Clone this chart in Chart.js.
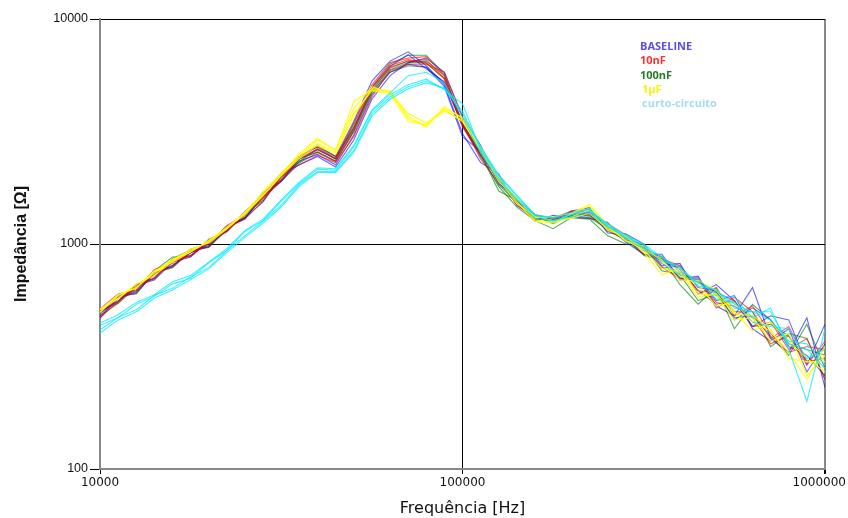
<!DOCTYPE html>
<html>
<head>
<meta charset="utf-8">
<script src="https://cdn.jsdelivr.net/npm/chart.js@4"></script>
<style>
  html, body { margin: 0; padding: 0; background: #fff; }
  #wrap { width: 848px; height: 518px; }
</style>
</head>
<body>
<div id="wrap"><canvas id="graph-impedance"></canvas></div>
<script>
// frequency points (Hz), 20 per decade
const freq = [10000, 11220, 12589, 14125, 15849, 17783, 19953, 22387, 25119, 28184,
  31623, 35481, 39811, 44668, 50119, 56234, 63096, 70795, 79433, 89125,
  100000, 112202, 125893, 141254, 158489, 177828, 199526, 223872, 251189, 281838,
  316228, 354813, 398107, 446684, 501187, 562341, 630957, 707946, 794328, 891251, 1000000];

const yTicks = [100, 1000, 10000];
const xTicks = [10000, 100000, 1000000];

// BASELINE
const baseline1 = [503,553,656,692,831,876,1040,1143,1397,1634,1905,2409,2750,2450,3500,5300,6500,7150,6200,5100,3100,2300,2050,1480,1330,1240,1400,1450,1120,1110,1000,800,820,600,660,560,430,480,460,290,440];
const baseline2 = [470,575,605,745,795,935,970,1190,1290,1650,2050,2250,2450,2200,2900,4400,5600,6400,6700,5800,3650,2750,1850,1600,1260,1340,1320,1300,1250,1020,900,900,700,720,530,480,640,380,330,470,230];
const baseline3 = [495,560,640,710,845,890,1010,1200,1310,1540,2010,2390,2620,2390,3260,4950,6150,6950,6000,5250,3350,2480,1960,1540,1350,1280,1390,1420,1150,1080,980,780,800,640,620,460,520,460,350,320,260];
const baseline4 = [480,580,615,735,800,915,985,1150,1360,1700,1900,2340,2500,2250,3050,4600,5800,6300,6100,5000,3000,2580,1880,1580,1290,1310,1330,1390,1210,1040,930,880,690,700,560,590,420,370,420,270,360];

// 10nF
const nf10a = [515,600,625,770,820,950,1000,1210,1340,1680,1990,2450,2700,2400,3450,5100,6400,6700,6800,5600,3450,2380,1880,1590,1350,1300,1400,1380,1230,1100,940,870,770,620,610,560,430,450,340,380,250];
const nf10b = [480,545,665,700,845,890,1030,1130,1370,1600,1920,2400,2560,2330,3200,4850,6100,6500,6600,5450,3400,2560,1960,1500,1280,1310,1330,1420,1160,1040,1000,790,700,710,520,580,500,380,430,300,310];
const nf10c = [470,580,610,745,790,925,970,1185,1290,1560,2000,2250,2480,2300,3000,4500,5900,6300,6300,5800,3700,2600,1920,1550,1320,1280,1360,1340,1200,1070,900,860,800,600,640,480,530,400,330,350,340];
const nf10d = [505,555,645,705,835,880,1025,1150,1345,1610,1960,2420,2640,2400,3280,4950,6200,6600,6400,5400,3300,2470,1940,1520,1300,1270,1380,1360,1170,1080,970,820,740,690,550,530,470,360,390,290,370];

// 100nF
const nf100a = [500,590,620,760,875,880,1050,1140,1370,1560,1990,2320,2650,2380,3400,5000,6300,6900,6900,5700,3400,2500,1800,1460,1270,1170,1310,1290,1090,1000,980,760,730,560,600,470,480,390,320,440,280];
const nf100b = [470,555,660,700,860,940,965,1160,1320,1600,1900,2290,2550,2320,3150,4700,5950,6400,6500,5600,3450,2550,1900,1500,1320,1230,1350,1360,1140,1050,900,860,660,540,640,420,540,460,360,340,320];
const nf100c = [505,545,640,735,805,915,1000,1190,1300,1660,2060,2470,2700,2450,3300,4750,5800,6200,6100,5200,3380,2430,1830,1530,1300,1290,1340,1310,1170,1030,960,840,780,620,540,560,430,440,390,300,350];
const nf100d = [490,590,600,745,785,925,980,1170,1310,1630,1930,2380,2570,2340,3180,4800,6050,6500,6350,5450,3420,2510,1720,1560,1280,1310,1370,1330,1180,1070,890,850,710,680,610,500,500,350,400,380,250];

// 1uF
const uf1a = [510,575,660,740,845,925,1030,1170,1390,1680,2050,2520,2950,2600,4300,4850,4750,3600,3350,4000,3650,2700,1980,1540,1260,1240,1320,1420,1150,1080,920,730,780,600,590,460,470,370,400,260,320];
const uf1b = [500,595,635,750,855,935,1020,1190,1350,1640,2030,2440,2800,2550,3800,4800,4650,3500,3400,3900,3550,2640,1890,1600,1310,1320,1370,1500,1220,1030,980,840,720,660,530,550,450,410,330,250,350];
const uf1c = [515,570,665,725,835,950,1010,1165,1370,1650,2010,2400,2750,2500,3700,4900,4800,3700,3300,4100,3600,2600,1930,1510,1330,1270,1300,1370,1170,1090,950,850,690,690,620,500,410,450,370,310,270];
const uf1d = [495,590,640,760,830,920,1040,1180,1360,1710,2060,2470,2900,2620,4000,5000,4700,3800,3450,3950,3500,2680,1970,1590,1280,1250,1360,1480,1190,1040,940,780,750,580,600,490,480,420,310,300,300];

// curto-circuito
const curto1 = [435,470,540,585,665,705,825,935,1140,1270,1550,1860,2150,2130,2700,3900,4600,5100,5400,4850,4200,2620,1970,1580,1340,1260,1350,1390,1230,1070,990,840,790,650,630,520,500,500,360,340,280];
const curto2 = [415,472,510,592,635,715,785,935,1090,1265,1490,1840,2100,2100,2600,3800,4500,5000,5300,4900,3900,2660,2010,1630,1340,1300,1350,1440,1190,1100,960,880,750,700,590,580,470,520,340,200,420];
const curto3 = [445,485,550,595,680,725,830,955,1150,1290,1570,1890,2180,2160,2750,3950,4700,5600,5800,5200,3650,2540,1920,1570,1300,1270,1320,1370,1200,1060,950,820,730,680,570,550,450,430,420,310,340];
const curto4 = [402,460,500,575,625,695,775,915,1070,1240,1460,1810,2080,2080,2550,3700,4400,4900,5200,4950,3800,2700,2030,1650,1350,1310,1380,1420,1230,1090,1000,870,780,670,620,540,500,460,370,360,290];

const groups = [
  { name: "curto-circuito", line: "rgba(0,235,255,0.75)", text: "#a6dcef", series: [curto1, curto2, curto3, curto4] },
  { name: "1\u00b5F", line: "rgba(255,255,0,0.9)", text: "#f4f400", series: [uf1a, uf1b, uf1c, uf1d] },
  { name: "10nF", line: "rgba(255,0,0,0.6)", text: "#ff3030", series: [nf10a, nf10b, nf10c, nf10d] },
  { name: "BASELINE", line: "rgba(0,0,255,0.6)", text: "#5a50dc", series: [baseline1, baseline2, baseline3, baseline4] },
  { name: "100nF", line: "rgba(0,128,0,0.65)", text: "#267b26", series: [nf100a, nf100b, nf100c, nf100d] },
];

const datasets = [];
groups.forEach((g) => {
  g.series.forEach((vals) => {
    datasets.push({
      data: freq.map((f, i) => ({ x: f, y: vals[i] })),
      borderColor: g.line,
      borderWidth: 1.1,
      pointRadius: 0,
      tension: 0,
      fill: false,
    });
  });
});

// legend drawn as coloured text only
const legendOrder = ["BASELINE", "10nF", "100nF", "1\u00b5F", "curto-circuito"];
const textLegend = {
  id: "textLegend",
  afterDraw(chart) {
    const ctx = chart.ctx;
    ctx.save();
    ctx.font = "bold 11px 'Open Sans', sans-serif";
    ctx.textBaseline = "middle";
    ctx.textAlign = "left";
    legendOrder.forEach((name, i) => {
      const g = groups.find((gr) => gr.name === name);
      ctx.fillStyle = g.text;
      ctx.fillText(name, 640 + (i >= 3 ? 2 : 0), 47 + i * 14.2);
    });
    // x tick labels, last one kept inside the canvas
    const xs = chart.scales.x;
    ctx.font = "12px 'DejaVu Sans', sans-serif";
    ctx.fillStyle = "#111";
    ctx.textBaseline = "top";
    ctx.textAlign = "center";
    xTicks.forEach((v) => {
      const label = String(v);
      const w = ctx.measureText(label).width;
      const px = Math.min(xs.getPixelForValue(v), chart.width - 2 - w / 2);
      ctx.fillText(label, px, xs.top + 8);
    });
    ctx.restore();
  },
};

const isMajor = (v) => [100, 1000, 10000, 100000, 1000000].includes(v);

new Chart(document.getElementById("graph-impedance"), {
  type: "line",
  data: { datasets },
  options: {
    responsive: true,
    maintainAspectRatio: false,
    animation: false,
    layout: { padding: { top: 19, right: 23, left: 0, bottom: 0 } },
    plugins: { legend: { display: false }, tooltip: { enabled: false } },
    scales: {
      x: {
        type: "logarithmic",
        min: 10000,
        max: 1000000,
        afterBuildTicks: (scale) => { scale.ticks = xTicks.map((v) => ({ value: v })); },
        afterFit: (scale) => { scale.height = 49; },
        ticks: { display: false },
        grid: {
          color: (c) => (c.tick && c.tick.value === 100000 ? "#000" : c.tick && c.tick.value === 1000000 ? "#888" : "rgba(0,0,0,0)"),
          lineWidth: (c) => (c.tick && c.tick.value === 1000000 ? 2 : 1),
          tickColor: "#000",
          tickLength: 5,
        },
        border: { color: "#888", width: 2 },
        title: {
          display: true,
          text: "Frequência [Hz]",
          color: "#111",
          font: { family: "'DejaVu Sans', sans-serif", size: 16 },
          padding: { top: 0, bottom: 0 },
        },
      },
      y: {
        type: "logarithmic",
        min: 100,
        max: 10000,
        afterBuildTicks: (scale) => { scale.ticks = yTicks.map((v) => ({ value: v })); },
        afterFit: (scale) => { scale.width = 100; },
        ticks: {
          callback: (v) => String(v),
          color: "#111",
          font: { family: "'Liberation Sans', Arial, sans-serif", size: 12.5 },
          padding: 2,
        },
        grid: {
          color: (c) => (c.tick && isMajor(c.tick.value) && c.tick.value !== 100 ? "#000" : "rgba(0,0,0,0)"),
          tickColor: "#000",
          tickLength: 10,
        },
        border: { color: "#888", width: 2 },
        title: {
          display: true,
          text: "Impedância [Ω]",
          color: "#111",
          font: { family: "'Liberation Sans', Arial, sans-serif", size: 16, weight: "bold" },
          padding: { top: 12, bottom: 0 },
        },
      },
    },
  },
  plugins: [textLegend],
});
</script>
</body>
</html>
